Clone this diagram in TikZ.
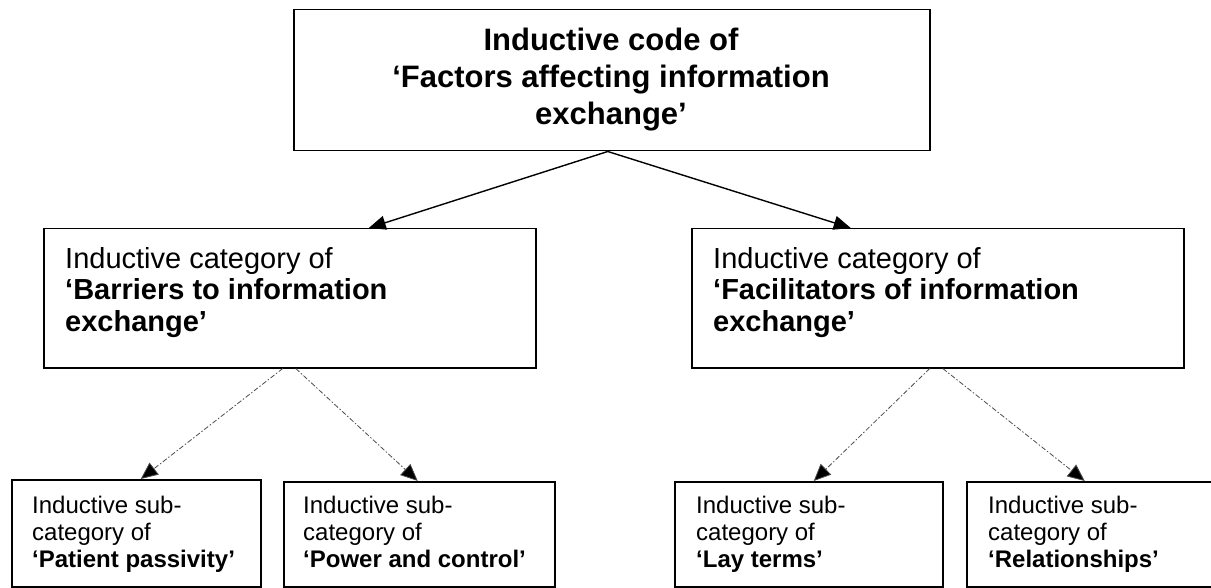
\documentclass[tikz,border=0pt]{standalone}
\usepackage{fontspec}
\setmainfont{Liberation Sans}
\usetikzlibrary{arrows.meta}
\begin{document}
\begin{tikzpicture}[x=1pt,y=-1pt,
  box/.style={draw=black,line width=1.5pt,fill=white,inner sep=0pt,anchor=north west},
  toptext/.style={inner sep=0pt,anchor=north,align=center,font=\fontsize{31}{37}\selectfont\bfseries},
  midtext/.style={inner sep=0pt,anchor=north west,align=left,font=\fontsize{29}{31.5}\selectfont},
  subtext/.style={inner sep=0pt,anchor=north west,align=left,font=\fontsize{24}{27}\selectfont},
  mainlink/.style={draw=black,line width=1.4pt,-{Triangle[length=17pt,width=14pt]}},
  sublink/.style={draw=black!70,line width=0.8pt,dash pattern=on 5pt off 2pt on 1.5pt off 2pt,
    -{Triangle[length=17pt,width=15pt,fill=black]}},
]
\useasboundingbox (0,0) rectangle (1211,588);

% boxes
\node[box,minimum width=636pt,minimum height=141pt] (code) at (293,9) {};
\node[box,minimum width=492pt,minimum height=139pt] (barr) at (43,228) {};
\node[box,minimum width=492pt,minimum height=139pt] (faci) at (691,228) {};
\node[box,minimum width=249pt,minimum height=107pt] (pass) at (11,479) {};
\node[box,minimum width=271pt,minimum height=105pt] (powr) at (283,481) {};
\node[box,minimum width=268pt,minimum height=105pt] (layt) at (674,481) {};
\node[box,minimum width=262pt,minimum height=105pt] (rela) at (966,481) {};

% box texts
\node[toptext] (codetxt) at (611,27.4) {Inductive code of\\‘Factors affecting information\\exchange’};
\node[midtext] (barrtxt) at (65,246.8) {Inductive category of\\\textbf{‘Barriers to information}\\\textbf{exchange’}};
\node[midtext] (facitxt) at (713,246.8) {Inductive category of\\\textbf{‘Facilitators of information}\\\textbf{exchange’}};
\node[subtext] (passtxt) at (32,496) {Inductive sub-\\category of\\\textbf{‘Patient passivity’}};
\node[subtext] (powrtxt) at (303,496) {Inductive sub-\\category of\\\textbf{‘Power and control’}};
\node[subtext] (laytxt) at (696,496) {Inductive sub-\\category of\\\textbf{‘Lay terms’}};
\node[subtext] (relatxt) at (988,496) {Inductive sub-\\category of\\\textbf{‘Relationships’}};

% code -> categories
\draw[mainlink] ([xshift=-4pt]code.south) -- ([xshift=79pt]barr.north);
\draw[mainlink] ([xshift=-4pt]code.south) -- ([xshift=-87pt]faci.north);

% categories -> sub-categories
\draw[sublink] ([xshift=-7pt]barr.south) -- ([xshift=4.5pt]pass.north);
\draw[sublink] ([xshift=6pt]barr.south) -- ([xshift=-1.5pt]powr.north);
\draw[sublink] ([xshift=-8pt]faci.south) -- ([xshift=5pt]layt.north);
\draw[sublink] ([xshift=5pt]faci.south) -- ([xshift=-13pt]rela.north);
\end{tikzpicture}
\end{document}
